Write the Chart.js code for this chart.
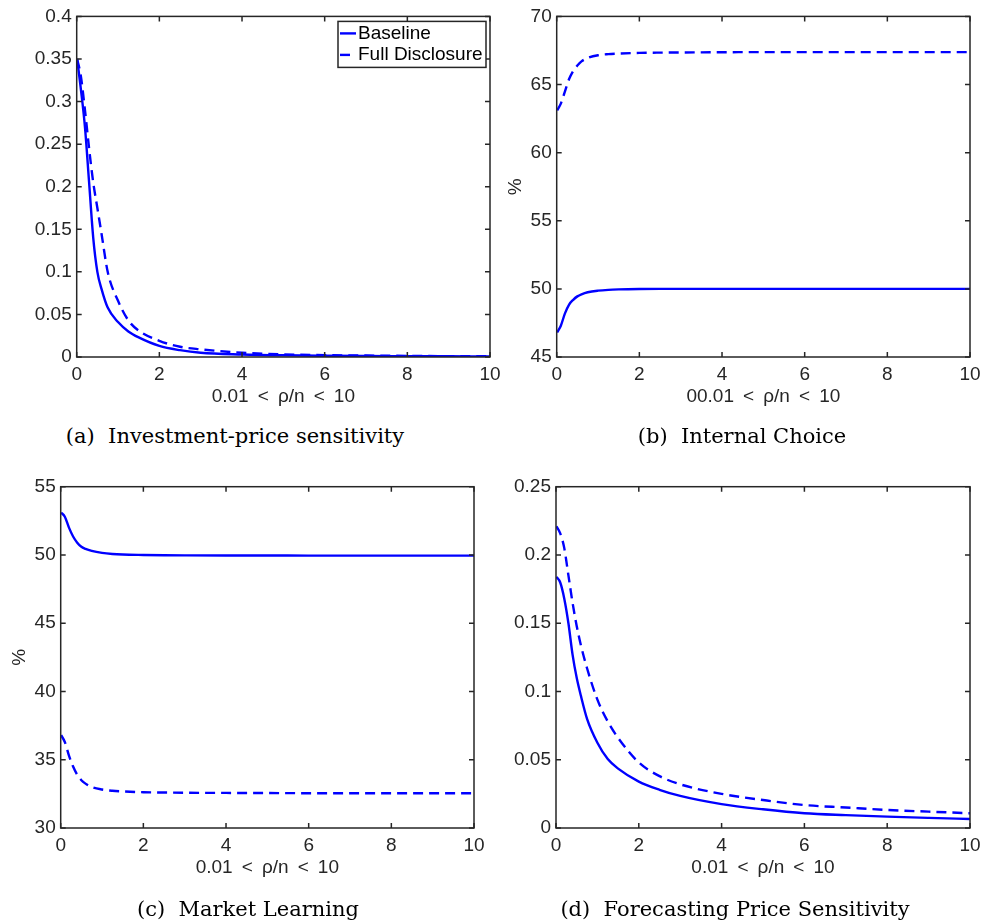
<!DOCTYPE html>
<html>
<head>
<meta charset="utf-8">
<script src="https://cdn.jsdelivr.net/npm/chart.js@4"></script>
<style>
  body { margin: 0; background: #fff; overflow: hidden; }
  #wrap { position: relative; width: 981px; height: 922px; }
  canvas { position: absolute; }
  .cap { position: absolute; width: 480px; text-align: center; font-family: "DejaVu Serif", serif; font-size: 21px; color: #000; white-space: pre; }
</style>
</head>
<body>
<div id="wrap">
  <canvas id="chA" width="502" height="420" style="left:0;top:0"></canvas>
  <canvas id="chB" width="491" height="420" style="left:490px;top:0"></canvas>
  <canvas id="chC" width="490" height="462" style="left:0;top:460px"></canvas>
  <canvas id="chD" width="491" height="462" style="left:490px;top:460px"></canvas>
  <div class="cap" style="left:-5px;top:424px">(a)  Investment-price sensitivity</div>
  <div class="cap" style="left:502px;top:424px">(b)  Internal Choice</div>
  <div class="cap" style="left:8px;top:897px">(c)  Market Learning</div>
  <div class="cap" style="left:495px;top:897px">(d)  Forecasting Price Sensitivity</div>
</div>
<script>
// shared x grid (rho/n)
const xVals = [0.01, 0.1, 0.2, 0.3, 0.4, 0.5, 0.6, 0.75, 1, 1.25, 1.5, 2, 2.5, 3, 4, 5, 6, 7, 8, 9, 10];
const xTicks = [0, 2, 4, 6, 8, 10];

// (a) Investment-price sensitivity
const investBase = [0.35, 0.315, 0.27, 0.205, 0.14, 0.1, 0.08, 0.058, 0.041, 0.03, 0.023, 0.013, 0.008, 0.005, 0.003, 0.002, 0.0015, 0.0012, 0.001, 0.0008, 0.0007];
const investFull = [0.35, 0.33, 0.29, 0.245, 0.205, 0.175, 0.145, 0.1, 0.066, 0.043, 0.031, 0.019, 0.012, 0.009, 0.005, 0.003, 0.0022, 0.0017, 0.0013, 0.001, 0.0009];
const yTicksA = [0, 0.05, 0.1, 0.15, 0.2, 0.25, 0.3, 0.35, 0.4];

// (b) Internal Choice
const choiceBase = [46.8, 47.3, 48.2, 48.85, 49.2, 49.45, 49.6, 49.75, 49.87, 49.93, 49.96, 49.99, 50, 50, 50, 50, 50, 50, 50, 50, 50];
const choiceFull = [63.1, 63.6, 64.5, 65.4, 66.0, 66.4, 66.7, 66.95, 67.15, 67.23, 67.27, 67.32, 67.34, 67.35, 67.37, 67.38, 67.38, 67.38, 67.38, 67.38, 67.38];
const yTicksB = [45, 50, 55, 60, 65, 70];

// (c) Market Learning
const learnBase = [53.1, 52.8, 52.0, 51.35, 50.9, 50.6, 50.45, 50.3, 50.15, 50.07, 50.03, 50.0, 49.98, 49.97, 49.96, 49.96, 49.95, 49.95, 49.95, 49.95, 49.95];
const learnFull = [36.8, 36.3, 35.3, 34.5, 33.9, 33.5, 33.25, 33.0, 32.82, 32.73, 32.68, 32.62, 32.6, 32.58, 32.57, 32.56, 32.55, 32.55, 32.54, 32.54, 32.54];
const yTicksC = [30, 35, 40, 45, 50, 55];

// (d) Forecasting Price Sensitivity
const forecastBase = [0.184, 0.18, 0.168, 0.15, 0.127, 0.11, 0.097, 0.08, 0.0625, 0.0505, 0.0435, 0.034, 0.028, 0.0235, 0.0175, 0.0137, 0.0108, 0.0094, 0.0083, 0.0074, 0.0066];
const forecastFull = [0.221, 0.216, 0.205, 0.185, 0.165, 0.148, 0.134, 0.117, 0.094, 0.078, 0.066, 0.048, 0.038, 0.032, 0.025, 0.0205, 0.0168, 0.015, 0.0132, 0.012, 0.0108];
const yTicksD = [0, 0.05, 0.1, 0.15, 0.2, 0.25];

const seriesNames = ['Baseline', 'Full Disclosure'];
const axisColor = '#262626';
const tickFont = { family: '"Liberation Sans", Arial, sans-serif', size: 19 };
const xTitle = '0.01 \u2009<\u2009 ρ/n \u2009<\u2009 10';

const pts = arr => arr.map((v, i) => ({ x: xVals[i], y: v }));
const fmt = v => String(parseFloat(Number(v).toFixed(4)));

// box around the plot area with inward ticks on all four sides (MATLAB style)
const boxTicks = {
    id: 'boxTicks',
    afterDatasetsDraw(chart) {
        const { ctx, chartArea: a, scales: { x, y } } = chart;
        ctx.save();
        ctx.strokeStyle = axisColor;
        ctx.lineWidth = 1.5;
        ctx.beginPath();
        x.ticks.forEach(t => {
            const px = x.getPixelForValue(t.value);
            ctx.moveTo(px, a.bottom); ctx.lineTo(px, a.bottom - 5);
            ctx.moveTo(px, a.top); ctx.lineTo(px, a.top + 5);
        });
        y.ticks.forEach(t => {
            const py = y.getPixelForValue(t.value);
            ctx.moveTo(a.left, py); ctx.lineTo(a.left + 5, py);
            ctx.moveTo(a.right, py); ctx.lineTo(a.right - 5, py);
        });
        ctx.stroke();
        ctx.strokeRect(a.left, a.top, a.right - a.left, a.bottom - a.top);
        ctx.restore();
    }
};

// legend box inside the top right corner of panel (a)
const boxLegend = {
    id: 'boxLegend',
    afterDraw(chart, args, opts) {
        if (!opts.show) return;
        const { ctx, chartArea: a } = chart;
        const w = 148, h = 46;
        const x0 = a.right - w - 4, y0 = a.top + 5;
        ctx.save();
        ctx.fillStyle = '#fff';
        ctx.fillRect(x0, y0, w, h);
        ctx.strokeStyle = '#262626';
        ctx.lineWidth = 1.5;
        ctx.strokeRect(x0, y0, w, h);
        ctx.font = '19px "Liberation Sans", Arial, sans-serif';
        ctx.textBaseline = 'middle';
        ctx.fillStyle = '#000';
        chart.data.datasets.forEach((ds, i) => {
            const yy = y0 + 12 + i * 21.5;
            ctx.strokeStyle = ds.borderColor;
            ctx.lineWidth = ds.borderWidth;
            ctx.setLineDash(ds.borderDash || []);
            ctx.beginPath();
            ctx.moveTo(x0 + 2, yy); ctx.lineTo(x0 + 18, yy);
            ctx.stroke();
            ctx.setLineDash([]);
            ctx.fillText(ds.label, x0 + 20, yy);
        });
        ctx.restore();
    }
};

function makePanel(id, base, full, yTicks, opt) {
    const ctx = document.getElementById(id).getContext('2d');
    return new Chart(ctx, {
        type: 'line',
        data: {
            datasets: [{
                label: seriesNames[0],
                data: pts(base),
                borderColor: '#0000ff',
                borderWidth: 2.4,
                pointRadius: 0,
                cubicInterpolationMode: 'monotone'
            }, {
                label: seriesNames[1],
                data: pts(full),
                borderColor: '#0000ff',
                borderWidth: 2.4,
                borderDash: [10, 6],
                pointRadius: 0,
                cubicInterpolationMode: 'monotone'
            }]
        },
        options: {
            responsive: false,
            animation: false,
            devicePixelRatio: 1,
            layout: { padding: { top: opt.top, right: opt.right, left: 0, bottom: 0 } },
            plugins: {
                legend: { display: false },
                tooltip: { enabled: false },
                boxLegend: { show: !!opt.legend }
            },
            scales: {
                x: {
                    type: 'linear',
                    min: 0,
                    max: 10,
                    afterBuildTicks: s => { s.ticks = xTicks.map(v => ({ value: v })); },
                    afterFit: s => { s.height = opt.xh; s.paddingLeft = 0; s.paddingRight = 0; },
                    grid: { display: false, drawTicks: false },
                    border: { display: false },
                    ticks: { color: axisColor, font: tickFont, padding: 6, maxRotation: 0, callback: fmt },
                    title: {
                        display: true,
                        text: opt.xtitle || xTitle,
                        color: axisColor,
                        font: tickFont,
                        padding: { top: 0, bottom: opt.titlePad }
                    }
                },
                y: {
                    type: 'linear',
                    min: yTicks[0],
                    max: yTicks[yTicks.length - 1],
                    afterBuildTicks: s => { s.ticks = yTicks.map(v => ({ value: v })); },
                    afterFit: s => { s.width = opt.yw; },
                    grid: { display: false, drawTicks: false },
                    border: { display: false },
                    ticks: { color: axisColor, font: tickFont, padding: 5, callback: fmt },
                    title: {
                        display: !!opt.ytitle,
                        text: opt.ytitle || '',
                        color: axisColor,
                        font: tickFont,
                        padding: { top: opt.ytitlePad || 0, bottom: 0 }
                    }
                }
            }
        },
        plugins: [boxTicks, boxLegend]
    });
}

makePanel('chA', investBase, investFull, yTicksA, { top: 16, right: 12, xh: 63, yw: 76.7, titlePad: 11.6, legend: true });
makePanel('chB', choiceBase, choiceFull, yTicksB, { top: 16, right: 11, xh: 63, yw: 66.7, titlePad: 11.6, ytitle: '%', ytitlePad: 14.1, xtitle: '00.01 \u2009<\u2009 ρ/n \u2009<\u2009 10' });
makePanel('chC', learnBase, learnFull, yTicksC, { top: 26.7, right: 16, xh: 94, yw: 60.7, titlePad: 42.6, ytitle: '%', ytitlePad: 8.6 });
makePanel('chD', forecastBase, forecastFull, yTicksD, { top: 26.7, right: 11, xh: 94, yw: 66, titlePad: 42.6 });
</script>
</body>
</html>
